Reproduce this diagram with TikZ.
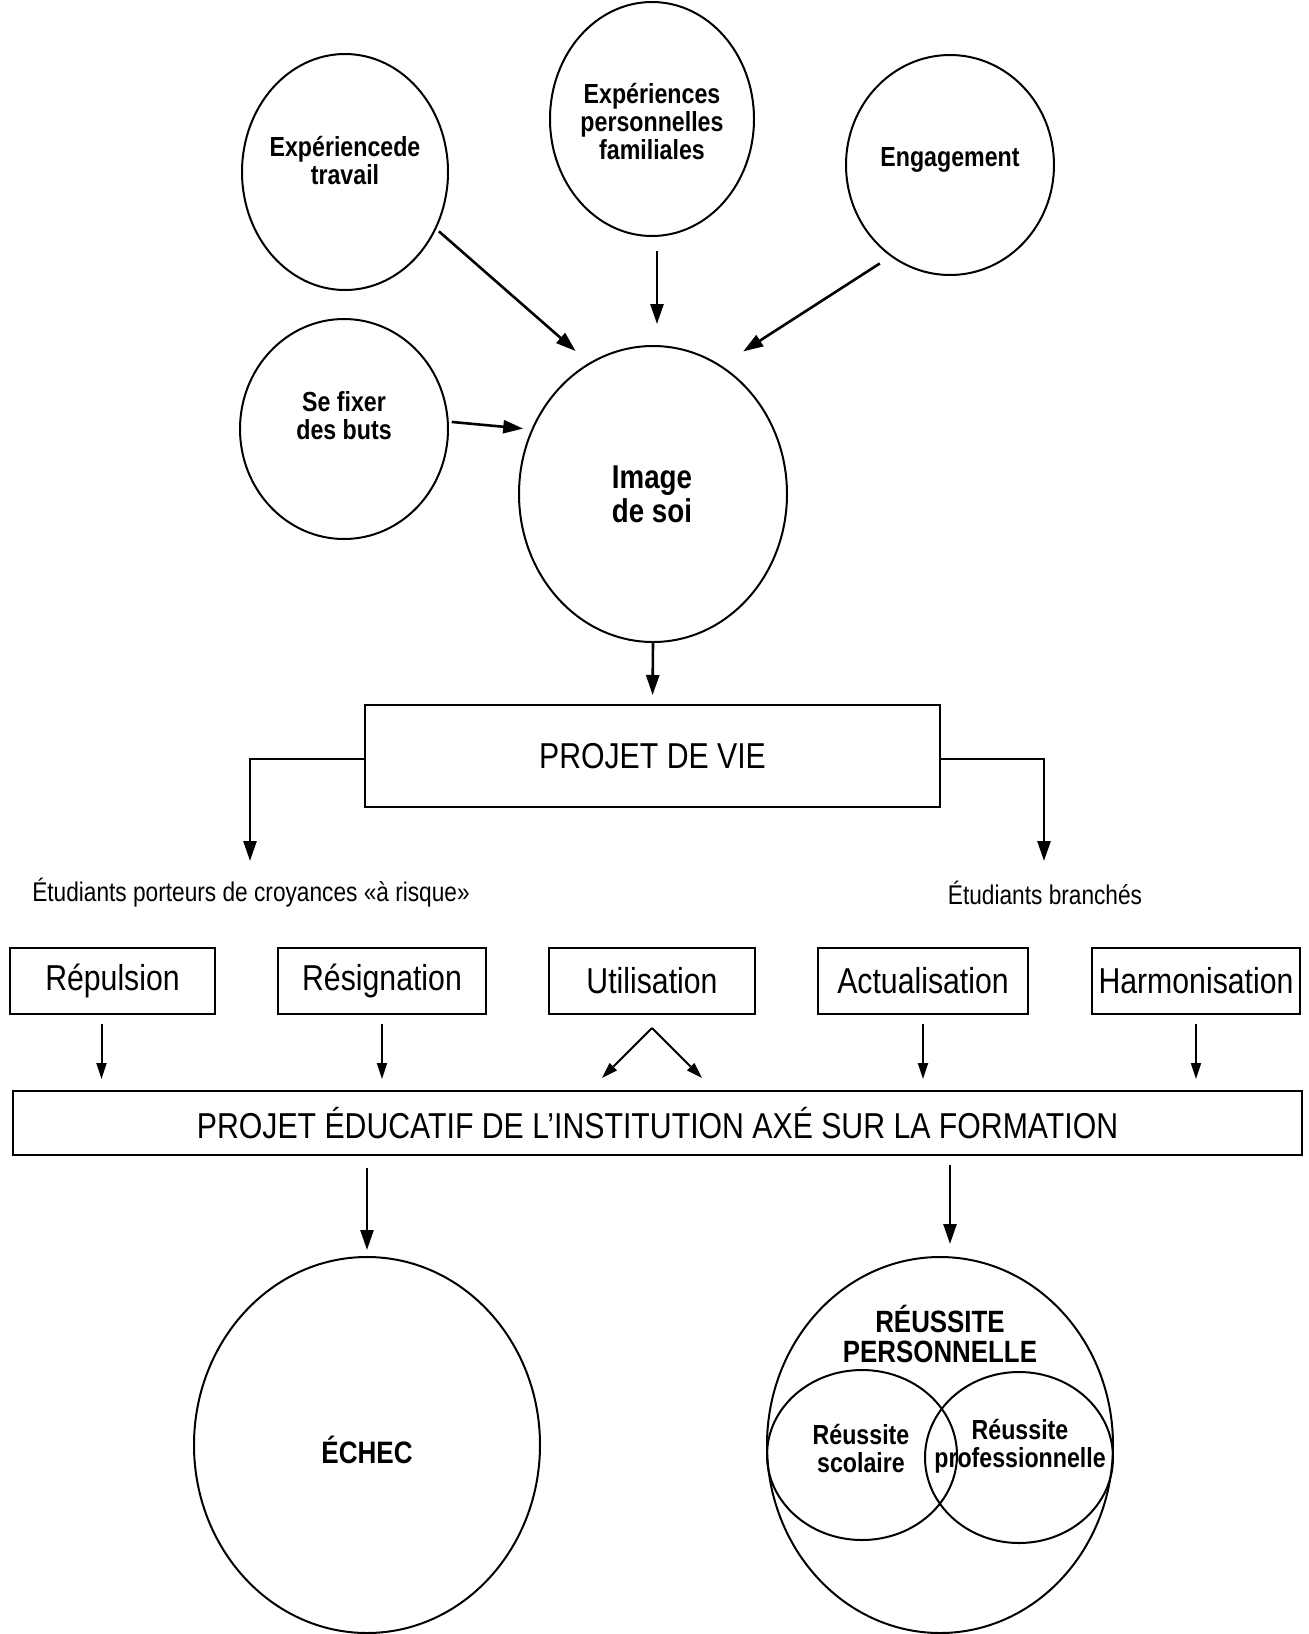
\documentclass[tikz,border=0pt]{standalone}
\usepackage{fontspec}
\setmainfont{Liberation Sans}[FakeStretch=0.84]
\usetikzlibrary{shapes.geometric,arrows.meta,calc}
\begin{document}
\begin{tikzpicture}[x=0.5pt,y=-0.5pt,
  ell/.style={draw, ellipse, line width=1pt, inner sep=0pt},
  etxt/.style={font=\fontsize{13.8}{14}\selectfont\bfseries, align=center, inner sep=0pt},
  box/.style={draw, line width=1pt, inner sep=0pt, font=\fontsize{18}{20}\selectfont},
  lbl/.style={inner sep=0pt, font=\fontsize{13.5}{15}\selectfont},
  arr/.style={-{Triangle[length=10pt,width=6.5pt]}, line width=1.3pt},
  sarr/.style={-{Triangle[length=8pt,width=5pt]}, line width=1pt}]
\fill[white] (0,0) rectangle (1309,1634);
\useasboundingbox (0,0) rectangle (1309,1634);

% ellipses
\node[ell, minimum width=103pt, minimum height=118pt] (trav) at (345,172) {};
\node[ell, minimum width=102pt, minimum height=117pt] (fam) at (652,119) {};
\node[ell, minimum width=104pt, minimum height=110pt] (eng) at (950,165) {};
\node[ell, minimum width=104pt, minimum height=110pt] (buts) at (344,429) {};
\node[ell, minimum width=134pt, minimum height=148pt] (img) at (653,494) {};
\node[ell, minimum width=173pt, minimum height=188pt] (echec) at (367,1445) {};
\node[ell, minimum width=173pt, minimum height=188pt] (reus) at (940,1445) {};
\node[ell, minimum width=95pt, minimum height=85pt] (sco) at (862,1455) {};
\node[ell, minimum width=94pt, minimum height=85.5pt] (pro) at (1019,1457.5) {};

% ellipse texts
\node[etxt] (travT) at (345,161) {Expériencede\\travail};
\node[etxt] (famT) at (652,122) {Expériences\\personnelles\\familiales};
\node[etxt] (engT) at (950,160) {Engagement};
\node[etxt] (butsT) at (344,416) {Se fixer\\des buts};
\node[etxt, font=\fontsize{16.5}{17}\selectfont\bfseries] (imgT) at (652,494) {Image\\de soi};
\node[etxt, font=\fontsize{15.5}{17}\selectfont\bfseries] (echecT) at (367,1450) {ÉCHEC};
\node[etxt, font=\fontsize{15.4}{15}\selectfont\bfseries] (reusT) at (940,1334) {RÉUSSITE\\PERSONNELLE};
\node[etxt] (scoT) at (861,1448) {Réussite\\scolaire};
\node[etxt] (proT) at (1020,1446) {Réussite\\professionnelle};

% boxes
\node[box, minimum width=287.5pt, minimum height=51pt] (pdv) at (652.5,756) {PROJET DE VIE};
\node[box, minimum width=102.5pt, minimum height=33pt] (rep) at (112.5,981) {Répulsion};
\node[box, minimum width=104pt, minimum height=33pt] (res) at (382,981) {Résignation};
\node[box, minimum width=103pt, minimum height=33pt] (util) at (652,981) {Utilisation};
\node[box, minimum width=105pt, minimum height=33pt] (act) at (923,981) {Actualisation};
\node[box, minimum width=104pt, minimum height=33pt] (harm) at (1196,981) {Harmonisation};
\node[box, minimum width=644.5pt, minimum height=32pt] (big) at (657.5,1123) {PROJET ÉDUCATIF DE L’INSTITUTION AXÉ SUR LA FORMATION};

% labels
\node[lbl] (risk) at (251,893) {Étudiants porteurs de croyances «à risque»};
\node[lbl] (bra) at (1045,893) {Étudiants branchés};
\coordinate (riskT) at (250,861);
\coordinate (braT) at (1044,861);

% arrows top
\draw[arr, shorten <=1.75pt, shorten >=8.9pt] (trav.-32) -- (img.116);
\draw[arr, shorten <=7pt, shorten >=10.5pt] ($(fam.south)+(5,0)$) -- ($(img.north)+(4,0)$);
\draw[arr, shorten <=6.4pt, shorten >=13pt] (eng.237) -- (img.62);
\draw[arr, shorten <=1.5pt, shorten >=4.1pt] (buts.4) -- (img.152);
\draw[arr, shorten >=4.5pt] (img.south) -- (pdv.north);
\draw[arr] ($(pdv.west)+(0,3)$) -| (riskT);
\draw[arr] ($(pdv.east)+(0,3)$) -| (braT);

% arrows to big box
\draw[sarr, shorten <=4.5pt, shorten >=5.5pt] ($(rep.south)+(-11,0)$) -- ($(rep.south |- big.north)+(-11,0)$);
\draw[sarr, shorten <=4.5pt, shorten >=5.5pt] (res.south) -- (res.south |- big.north);
\draw[sarr, shorten <=4.5pt, shorten >=5.5pt] (act.south) -- (act.south |- big.north);
\draw[sarr, shorten <=4.5pt, shorten >=5.5pt] (harm.south) -- (harm.south |- big.north);
\coordinate (uA) at ($(util.south)+(0,13)$);
\coordinate (uB) at (util.south |- big.north);
\draw[sarr] (uA) -- ($(uB)+(-50,-12)$);
\draw[sarr] (uA) -- ($(uB)+(50,-12)$);

% arrows to results
\draw[arr, shorten <=6pt, shorten >=3pt] (big.south -| echec.north) -- (echec.north);
\draw[arr, shorten <=4.5pt, shorten >=6pt] ($(big.south -| reus.north)+(10,0)$) -- ($(reus.north)+(10,0)$);
\end{tikzpicture}
\end{document}
